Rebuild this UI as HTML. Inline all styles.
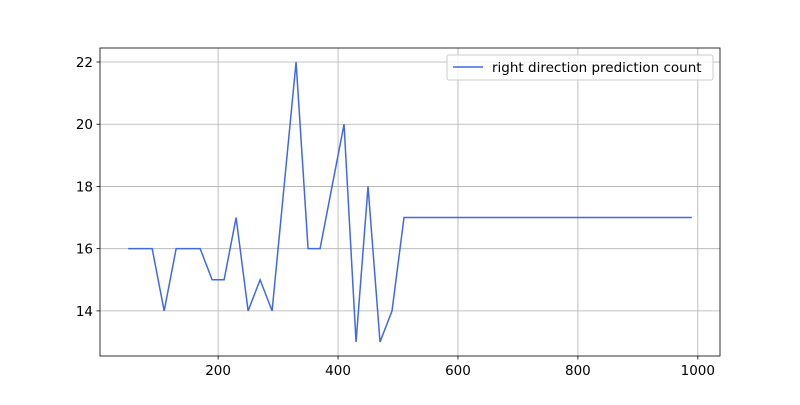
<!DOCTYPE html>
<html><head><meta charset="utf-8"><style>
body{margin:0;background:#fff;font-family:"Liberation Sans","DejaVu Sans",sans-serif;}
</style></head><body>
<svg width="800" height="400" xmlns="http://www.w3.org/2000/svg" font-family="DejaVu Sans, Liberation Sans, sans-serif">
<rect width="800" height="400" fill="#fff"/>
<g id="grid"></g>
<g id="ticks"></g>
<path id="line" fill="none" stroke="#4169e1" stroke-width="1.5"/>
<rect x="100" y="48" width="620" height="308" fill="none" stroke="#000" stroke-width="0.8"/>
<g>
<rect x="447" y="55" width="266" height="25" rx="2" fill="#fff" fill-opacity="0.8" stroke="#ccc" stroke-width="1"/>
<line x1="453" y1="67" x2="483" y2="67" stroke="#4169e1" stroke-width="1.5"/>
<text x="492" y="72" font-size="13.5" fill="#000">right direction prediction count</text>
</g>
</svg>
<script>
const xs=[50,70,90,110,130,150,170,190,210,230,250,270,290,310,330,350,370,390,410,430,450,470,490,510,530,550,570,590,610,630,650,670,690,710,730,750,770,790,810,830,850,870,890,910,930,950,970,990];
const ys=[16,16,16,14,16,16,16,15,15,17,14,15,14,18,22,16,16,18,20,13,18,13,14,17,17,17,17,17,17,17,17,17,17,17,17,17,17,17,17,17,17,17,17,17,17,17,17,17];
const xTicks=[200,400,600,800,1000];
const yTicks=[14,16,18,20,22];
const X=v=>100+(v-3)*620/1034;
const Y=v=>356-(v-12.55)*308/9.9;
const ns="http://www.w3.org/2000/svg";
const g=document.getElementById('grid'),t=document.getElementById('ticks');
function mk(p,tag,a){const e=document.createElementNS(ns,tag);for(const k in a)e.setAttribute(k,a[k]);p.appendChild(e);return e;}
xTicks.forEach(v=>{const x=X(v);
const l=mk(g,'line',{x1:x,x2:x,y1:48,y2:356,stroke:'#b0b0b0','stroke-width':0.8});


mk(t,'line',{x1:x,x2:x,y1:356,y2:359.5,stroke:'#000','stroke-width':0.8});
const tx=mk(t,'text',{x:x,y:375,'font-size':13.5,'text-anchor':'middle'});tx.textContent=v;

});
yTicks.forEach(v=>{const y=Y(v);
const l=mk(g,'line',{x1:100,x2:720,y1:y,y2:y,stroke:'#b0b0b0','stroke-width':0.8});


mk(t,'line',{x1:96.5,x2:100,y1:y,y2:y,stroke:'#000','stroke-width':0.8});
const tx=mk(t,'text',{x:93,y:y+5,'font-size':13.5,'text-anchor':'end'});tx.textContent=v;

});
document.getElementById('line').setAttribute('d',xs.map((v,i)=>(i?'L':'M')+X(v)+' '+Y(ys[i])).join(' '));
</script>
</body></html>
